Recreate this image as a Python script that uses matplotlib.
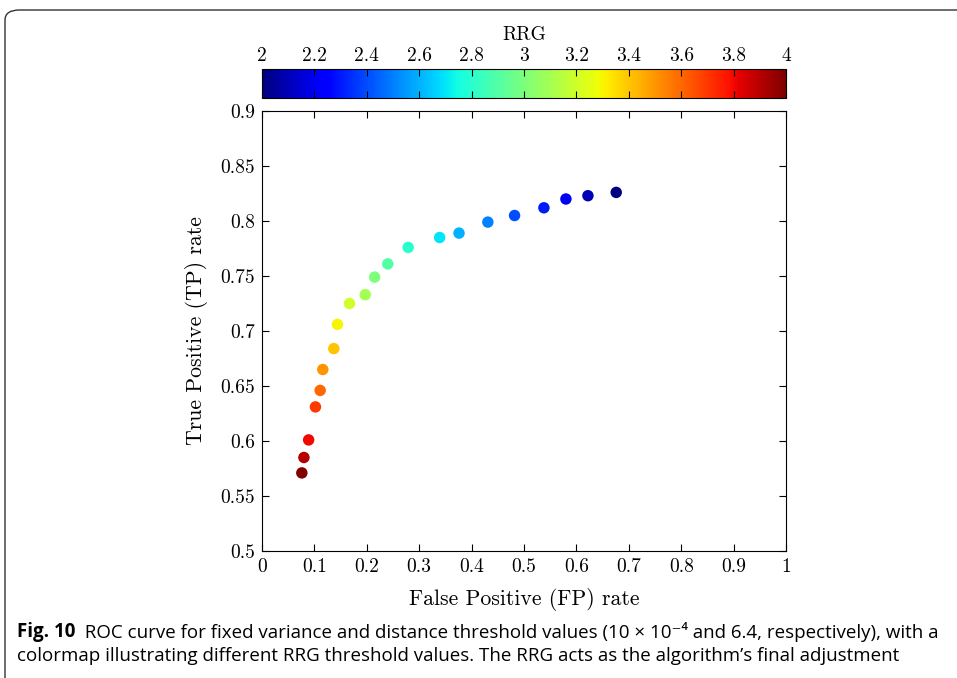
import numpy as np
import matplotlib
matplotlib.use("Agg")
import matplotlib.pyplot as plt
from matplotlib.patches import FancyBboxPatch
from matplotlib.colors import Normalize

# Data
fp_rate = [0.076, 0.080, 0.089, 0.102, 0.111, 0.116, 0.137, 0.144, 0.167, 0.197,
           0.215, 0.240, 0.279, 0.339, 0.376, 0.431, 0.482, 0.538, 0.580, 0.622, 0.676]
tp_rate = [0.571, 0.585, 0.601, 0.631, 0.646, 0.665, 0.684, 0.706, 0.725, 0.733,
           0.749, 0.761, 0.776, 0.785, 0.789, 0.799, 0.805, 0.812, 0.820, 0.823, 0.826]
rrg = [4.0, 3.9, 3.8, 3.7, 3.6, 3.5, 3.4, 3.3, 3.2, 3.1, 3.0,
       2.9, 2.8, 2.7, 2.6, 2.5, 2.4, 2.3, 2.2, 2.1, 2.0]
xticks = [0, 0.1, 0.2, 0.3, 0.4, 0.5, 0.6, 0.7, 0.8, 0.9, 1]
xticklabels = ["0", "0.1", "0.2", "0.3", "0.4", "0.5", "0.6", "0.7", "0.8", "0.9", "1"]
yticks = [0.5, 0.55, 0.6, 0.65, 0.7, 0.75, 0.8, 0.85, 0.9]
yticklabels = ["0.5", "0.55", "0.6", "0.65", "0.7", "0.75", "0.8", "0.85", "0.9"]
cticks = [2, 2.2, 2.4, 2.6, 2.8, 3, 3.2, 3.4, 3.6, 3.8, 4]
cticklabels = ["2", "2.2", "2.4", "2.6", "2.8", "3", "3.2", "3.4", "3.6", "3.8", "4"]

plt.rcParams['font.family'] = ['cmr10', 'DejaVu Serif']
plt.rcParams['mathtext.fontset'] = 'cm'
plt.rcParams['axes.formatter.use_mathtext'] = True

W, H = 957, 678
fig = plt.figure(figsize=(W / 100, H / 100), dpi=100)

def fx(px):
    return px / W

def fy(py):
    return 1 - py / H

# Outer rounded frame
frame = FancyBboxPatch((fx(5), fy(700)), fx(1000) - fx(5), fy(10) - fy(700),
                       boxstyle="round,pad=0,rounding_size=0.015",
                       transform=fig.transFigure, fill=False,
                       edgecolor="#333333", linewidth=1.0, clip_on=False)
fig.patches.append(frame)

ax = fig.add_axes([fx(262), fy(551), fx(786) - fx(262), fy(111) - fy(551)])
cmap = plt.get_cmap('jet')
norm = Normalize(vmin=2, vmax=4)
sc = ax.scatter(fp_rate, tp_rate, c=rrg, cmap=cmap, norm=norm, s=68,
                edgecolors='none', zorder=3)
ax.set_xlim(0, 1)
ax.set_ylim(0.5, 0.9)
ax.set_xticks(xticks)
ax.set_xticklabels(xticklabels)
ax.set_yticks(yticks)
ax.set_yticklabels(yticklabels)
ax.tick_params(direction='in', top=True, right=True, length=5, width=0.8,
               labelsize=14, pad=5)
for s in ax.spines.values():
    s.set_linewidth(0.8)
ax.set_xlabel("False Positive (FP) rate", fontsize=15.7, labelpad=9)
ax.set_ylabel("True Positive (TP) rate", fontsize=15.7, labelpad=9)

cax = fig.add_axes([fx(262), fy(98), fx(786) - fx(262), fy(69) - fy(98)])
cb = fig.colorbar(sc, cax=cax, orientation='horizontal')
cb.set_ticks(cticks)
cb.set_ticklabels(cticklabels)
cax.xaxis.set_ticks_position('top')
cax.xaxis.set_label_position('top')
cax.tick_params(axis='x', direction='in', length=5, width=0.8, labelsize=14,
                pad=3, bottom=True, top=True, labelbottom=False, labeltop=True)
cb.outline.set_linewidth(0.8)
cb.set_label("RRG", fontsize=14, labelpad=5)

cap_family = ['Liberation Sans Narrow', 'Open Sans', 'DejaVu Sans']
t1 = fig.text(fx(17), fy(637), "Fig. 10", fontsize=13.5, fontweight='bold',
              family=cap_family, va='baseline', ha='left')
ann = ax.annotate("  ROC curve for fixed variance and distance threshold values (10 \u00d7 10\u207b\u2074 and 6.4, respectively), with a",
                  xy=(1, 0), xycoords=t1, va='bottom', ha='left',
                  fontsize=13.5, family=cap_family, annotation_clip=False)
fig.text(fx(17), fy(661), "colormap illustrating different RRG threshold values. The RRG acts as the algorithm\u2019s final adjustment",
         fontsize=13.5, family=cap_family, va='baseline', ha='left')

fig.savefig("out.png", dpi=100)
